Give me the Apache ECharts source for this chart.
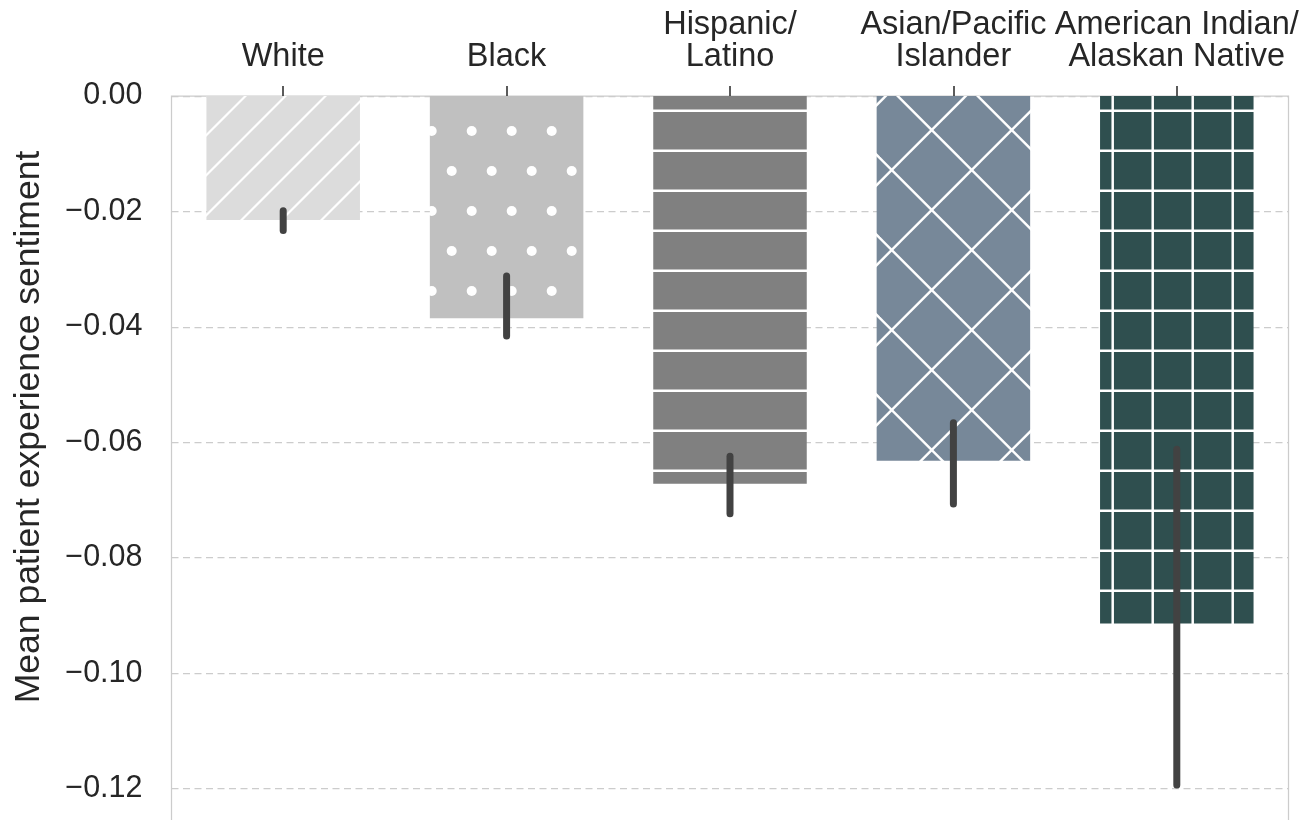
<!DOCTYPE html>
<html>
<head>
<meta charset="utf-8">
<script src="https://cdn.jsdelivr.net/npm/echarts@6/dist/echarts.min.js"></script>
<style>
  html, body { margin: 0; padding: 0; background: #ffffff; }
  #chart { width: 1312px; height: 820px; }
</style>
</head>
<body>
<div id="chart"></div>
<script>
// ---- data ----
const categories = ['White', 'Black', 'Hispanic/\nLatino', 'Asian/Pacific\nIslander', 'American Indian/\nAlaskan Native'];
const meanValues = [-0.0215, -0.0385, -0.0672, -0.0632, -0.0914];
const ciLow      = [-0.0233, -0.0416, -0.0724, -0.0707, -0.1194];
const ciHigh     = [-0.0199, -0.0312, -0.0624, -0.0566, -0.0612];
const yAxisTitle = 'Mean patient experience sentiment';

// ---- styles ----
const barColors = ['#dcdcdc', '#c0c0c0', '#808080', '#778899', '#2f4f4f'];
const FONT = '"Liberation Sans", Arial, sans-serif';
const TEXT = '#262626';

function tile(w, h, bg, draw) {
  const c = document.createElement('canvas');
  c.width = w; c.height = h;
  const ctx = c.getContext('2d');
  ctx.fillStyle = bg; ctx.fillRect(0, 0, w, h);
  ctx.strokeStyle = '#ffffff'; ctx.fillStyle = '#ffffff';
  draw(ctx, w, h);
  return { image: c, repeat: 'repeat' };
}
const patterns = [
  // diagonal '/'
  tile(40, 40, barColors[0], (ctx) => {
    ctx.lineWidth = 2.2;
    [-58.5, -18.5, 21.5, 61.5, 101.5].forEach(cc => {
      ctx.beginPath(); ctx.moveTo(cc + 20, -20); ctx.lineTo(cc - 70, 70); ctx.stroke();
    });
  }),
  // dots
  tile(40, 80, barColors[1], (ctx) => {
    [[31.7, 51], [11.7, 11]].forEach(p => {
      ctx.beginPath(); ctx.arc(p[0], p[1], 5, 0, Math.PI * 2); ctx.fill();
    });
  }),
  // horizontal lines
  tile(40, 40, barColors[2], (ctx) => {
    ctx.lineWidth = 2.5;
    ctx.beginPath(); ctx.moveTo(-5, 30.8); ctx.lineTo(45, 30.8); ctx.stroke();
  }),
  // crosshatch 'x'
  tile(80, 80, barColors[3], (ctx) => {
    ctx.lineWidth = 2.4;
    [-138.3, -58.3, 21.7, 101.7, 181.7].forEach(cc => {
      ctx.beginPath(); ctx.moveTo(cc + 20, -20); ctx.lineTo(cc - 110, 110); ctx.stroke();
    });
    [-161.7, -81.7, -1.7, 78.3, 158.3].forEach(d => {
      ctx.beginPath(); ctx.moveTo(-20, -20 + d); ctx.lineTo(110, 110 + d); ctx.stroke();
    });
  }),
  // grid '+'
  tile(40, 40, barColors[4], (ctx) => {
    ctx.lineWidth = 2.5;
    ctx.beginPath(); ctx.moveTo(-5, 30.8); ctx.lineTo(45, 30.8); ctx.stroke();
    ctx.beginPath(); ctx.moveTo(32.7, -5); ctx.lineTo(32.7, 45); ctx.stroke();
  })
];

const chart = echarts.init(document.getElementById('chart'), null, { renderer: 'canvas' });
chart.setOption({
  backgroundColor: '#ffffff',
  animation: false,
  grid: {
    left: 171.5, top: 96, width: 1117, height: 808,
    outerBoundsMode: 'none', containLabel: false,
    show: true, borderColor: '#cccccc', borderWidth: 1.25, backgroundColor: 'transparent'
  },
  xAxis: {
    type: 'category',
    position: 'top',
    data: categories,
    axisLine: { show: false },
    axisTick: { show: true, alignWithLabel: true, length: 10, lineStyle: { color: TEXT, width: 1.5 } },
    axisLabel: { interval: 0, fontSize: 32.5, lineHeight: 32, color: TEXT, fontFamily: FONT, margin: 23 },
    splitLine: { show: false }
  },
  yAxis: {
    type: 'value',
    min: -0.14, max: 0, interval: 0.02,
    axisLine: { show: false },
    axisTick: { show: false },
    axisLabel: {
      fontSize: 30.5, color: TEXT, fontFamily: FONT, margin: 29,
      formatter: v => (v < -1e-9 ? '\u2212' : '') + Math.abs(v).toFixed(2)
    },
    splitLine: { show: true, lineStyle: { type: [7, 4.5], color: '#cccccc', width: 1.25 } }
  },
  graphic: [{
    type: 'text', x: 29, y: 427, rotation: Math.PI / 2,
    style: { text: yAxisTitle, fontSize: 35.5, fill: TEXT, fontFamily: FONT, align: 'center', verticalAlign: 'middle' }
  }],
  series: [
    {
      type: 'bar',
      barWidth: 153.5,
      silent: true,
      data: meanValues.map((v, i) => ({ value: v, itemStyle: { color: patterns[i] } }))
    },
    {
      type: 'custom',
      silent: true,
      data: categories.map((c, i) => [i, ciLow[i], ciHigh[i]]),
      renderItem: (params, api) => {
        const i = api.value(0);
        const a = api.coord([i, api.value(1)]);
        const b = api.coord([i, api.value(2)]);
        return {
          type: 'line',
          shape: { x1: a[0], y1: a[1], x2: b[0], y2: b[1] },
          style: { stroke: '#424242', lineWidth: 7, lineCap: 'round' }
        };
      },
      z: 5
    }
  ]
});
</script>
</body>
</html>
